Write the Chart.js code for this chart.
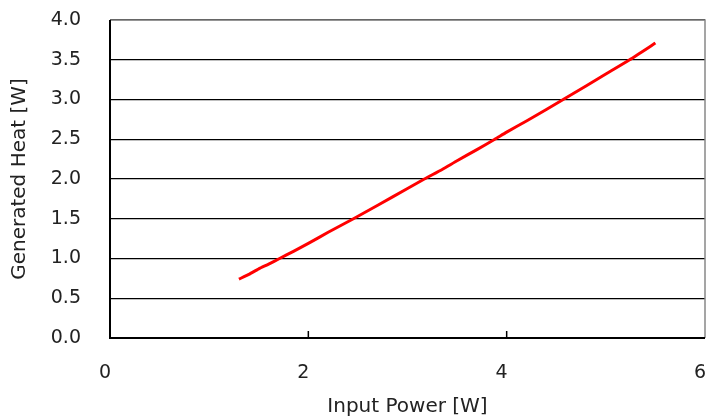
<!DOCTYPE html>
<html>
<head>
<meta charset="utf-8">
<script src="https://cdn.jsdelivr.net/npm/chart.js@4"></script>
<style>
  html, body { margin: 0; padding: 0; background: #fff; }
  #wrap { width: 706px; height: 419px; }
</style>
</head>
<body>
<div id="wrap"><canvas id="myChart" width="706" height="419"></canvas></div>
<script>
// values
const inputPower = [1.30, 1.40, 1.50, 1.60, 1.71, 1.85, 2.00, 2.20, 2.455, 2.70, 3.00, 3.17, 3.35, 3.50, 3.70, 3.88, 4.00, 4.20, 4.40, 4.57, 4.80, 5.00, 5.24, 5.50];
const generatedHeat = [0.74, 0.80, 0.87, 0.93, 1.00, 1.09, 1.19, 1.33, 1.50, 1.67, 1.88, 2.00, 2.12, 2.23, 2.37, 2.50, 2.59, 2.73, 2.875, 3.00, 3.17, 3.32, 3.50, 3.71];
const xTicks = [0, 2, 4, 6];

const fontFam = '"DejaVu Sans", "Liberation Sans", sans-serif';

// plot frame and inside tick marks
const framePlugin = {
    id: 'frame',
    afterDraw(chart) {
        const { ctx, chartArea: a, scales } = chart;
        ctx.save();
        ctx.strokeStyle = '#888';
        ctx.lineWidth = 1.5;
        ctx.beginPath();
        ctx.moveTo(a.left, a.top);
        ctx.lineTo(a.right, a.top);
        ctx.lineTo(a.right, a.bottom);
        ctx.stroke();
        ctx.strokeStyle = '#000';
        ctx.lineWidth = 1.5;
        xTicks.slice(1, -1).forEach(v => {
            const px = scales.x.getPixelForValue(v);
            ctx.beginPath();
            ctx.moveTo(px, a.bottom);
            ctx.lineTo(px, a.bottom - 7);
            ctx.stroke();
        });
        ctx.lineWidth = 2;
        ctx.beginPath();
        ctx.moveTo(a.left, a.top);
        ctx.lineTo(a.left, a.bottom);
        ctx.lineTo(a.right, a.bottom);
        ctx.stroke();
        ctx.restore();
    }
};

const ctx = document.getElementById('myChart');

const dataset = {
    datasets: [{
        data: inputPower.map((x, i) => ({ x: x, y: generatedHeat[i] })),
        borderColor: '#ff0000',
        borderWidth: 3,
        pointRadius: 0,
        fill: false,
        tension: 0.2
    }]
};

const config = {
    type: 'line',
    data: dataset,
    options: {
        responsive: false,
        animation: false,
        layout: { padding: { top: 20, right: 1, left: 0, bottom: 0 } },
        plugins: { legend: { display: false }, tooltip: { enabled: false } },
        scales: {
            x: {
                type: 'linear',
                min: 0,
                max: 6,
                afterBuildTicks: s => { s.ticks = xTicks.map(v => ({ value: v })); },
                afterFit: s => { s.height = 81; s.paddingLeft = 0; s.paddingRight = 0; },
                grid: { display: false },
                border: { display: false },
                ticks: {
                    color: '#222',
                    padding: 16,
                    labelOffset: -5,
                    font: { family: fontFam, size: 19 }
                },
                title: {
                    display: true,
                    text: 'Input Power [W]',
                    color: '#222',
                    padding: { top: 7, bottom: 0 },
                    font: { family: fontFam, size: 20 }
                }
            },
            y: {
                min: 0,
                max: 4,
                afterFit: s => { s.width = 110; s.paddingTop = 0; s.paddingBottom = 0; },
                grid: {
                    color: '#000',
                    lineWidth: 1.2,
                    drawTicks: false
                },
                border: { display: false },
                ticks: {
                    stepSize: 0.5,
                    color: '#222',
                    padding: 29,
                    callback: v => v.toFixed(1),
                    font: { family: fontFam, size: 19 }
                },
                title: {
                    display: true,
                    text: 'Generated Heat [W]',
                    color: '#222',
                    padding: { top: 8, bottom: 0 },
                    font: { family: fontFam, size: 20 }
                }
            }
        }
    },
    plugins: [framePlugin]
};

const chart = new Chart(ctx, config);
</script>
</body>
</html>
